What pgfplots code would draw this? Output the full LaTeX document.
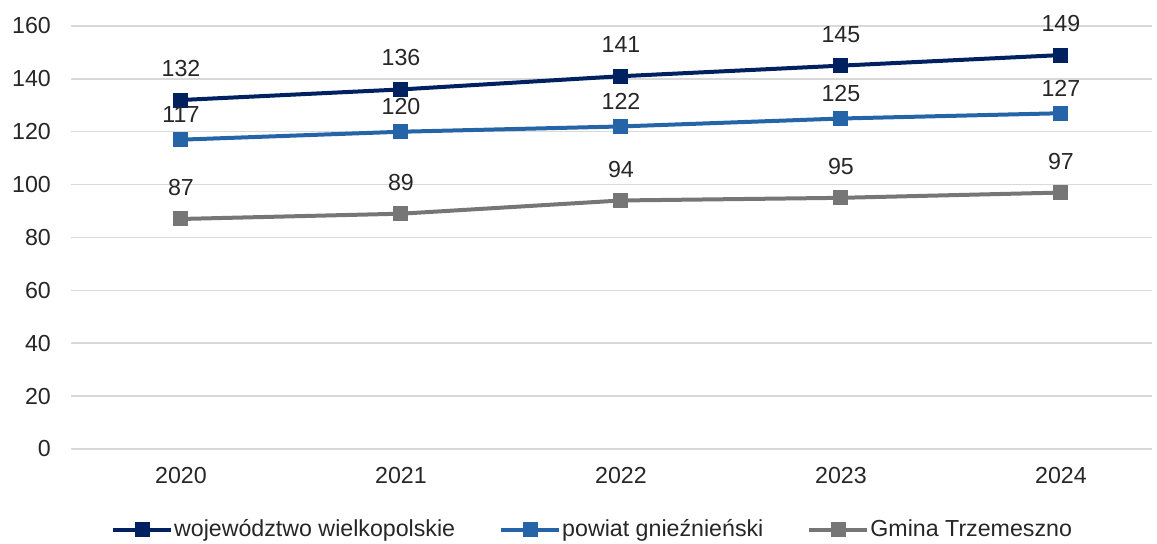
\documentclass[border=0pt]{standalone}
\usepackage{pgfplots}
\pgfplotsset{compat=1.18}
\usepackage{fontspec}
\setmainfont{Liberation Sans}

\definecolor{woj}{RGB}{0,33,96}
\definecolor{pow}{RGB}{38,100,168}
\definecolor{gmi}{RGB}{118,118,118}
\definecolor{gridc}{RGB}{217,217,217}

\newcommand{\chartfont}{\fontsize{11.6}{13.5}\selectfont}

\begin{document}
\chartfont
\begin{tikzpicture}
\begin{axis}[
  name=ax,
  scale only axis,
  width=540.5pt, height=211.5pt,
  xmin=-0.5, xmax=4.414,
  ymin=0, ymax=160,
  ytick={0,20,...,160},
  xtick={0,1,2,3,4},
  xticklabels={2020,2021,2022,2023,2024},
  axis line style={draw=none},
  major tick length=0pt,
  ymajorgrids,
  grid style={gridc, line width=0.75pt},
  /pgf/number format/assume math mode=true,
  yticklabel style={xshift=-6pt},
  xticklabel style={yshift=-5pt},
  tick label style={font=\chartfont, text=black!85},
  every axis plot/.append style={line width=2pt, mark=square*, mark size=3.5pt},
  nodes near coords,
  every node near coord/.append style={font=\chartfont, text=black!85, anchor=south, yshift=7.5pt},
  legend columns=3,
  legend style={at={(0.4834,-0.1915)}, anchor=center, draw=none, fill=none,
    font=\chartfont, text=black!85,
    /tikz/every even column/.append style={column sep=20pt},
    /tikz/every odd column/.append style={column sep=-1.5pt},
    inner sep=0pt},
  legend image code/.code={%
    \draw[mark repeat=2, mark phase=2] plot coordinates {(0pt,0pt) (14.5pt,0pt) (29pt,0pt)};},
]
\addplot[woj, mark options={fill=woj, line width=0.5pt}] coordinates {(0,132) (1,136) (2,141) (3,145) (4,149)};
\addlegendentry{województwo wielkopolskie}
\addplot[pow, mark options={fill=pow, line width=0.5pt},
  every node near coord/.append style={yshift=-3pt}] coordinates {(0,117) (1,120) (2,122) (3,125) (4,127)};
\addlegendentry{powiat gnieźnieński}
\addplot[gmi, mark options={fill=gmi, line width=0.5pt}] coordinates {(0,87) (1,89) (2,94) (3,95) (4,97)};
\addlegendentry{Gmina Trzemeszno}
\end{axis}
\pgfresetboundingbox
\useasboundingbox ([xshift=-35.5pt,yshift=-47.5pt]ax.south west) rectangle ([xshift=543pt,yshift=224.5pt]ax.south west);
\end{tikzpicture}
\end{document}
